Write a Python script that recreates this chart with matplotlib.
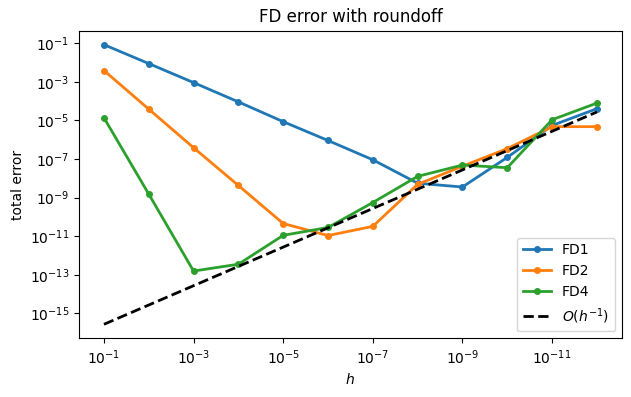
import matplotlib
matplotlib.use("Agg")
import matplotlib.pyplot as plt

h = [1e-1, 1e-2, 1e-3, 1e-4, 1e-5, 1e-6, 1e-7, 1e-8, 1e-9, 1e-10, 1e-11, 1e-12]

err_fd1 = [8.3e-2, 8.7e-3, 9.0e-4, 9.0e-5, 8.5e-6, 9.0e-7, 9.0e-8,
           5.5e-9, 3.5e-9, 1.2e-7, 5.4e-6, 4.0e-5]
err_fd2 = [3.8e-3, 3.8e-5, 3.8e-7, 4.2e-9, 4.5e-11, 1.07e-11, 3.2e-11,
           4.8e-9, 4.2e-8, 3.4e-7, 4.7e-6, 4.7e-6]
err_fd4 = [1.35e-5, 1.5e-9, 1.55e-13, 3.5e-13, 1.1e-11, 2.8e-11, 5.5e-10,
           1.25e-8, 4.8e-8, 3.5e-8, 1.07e-5, 7.8e-5]
ref = [2.7e-16, 2.7e-15, 2.7e-14, 2.7e-13, 2.7e-12, 2.7e-11, 2.7e-10,
       2.7e-9, 2.7e-8, 2.7e-7, 2.7e-6, 2.7e-5]

fig = plt.figure(figsize=(6.31, 3.97), dpi=100)
ax = fig.add_axes([0.1257, 0.1479, 0.8593, 0.7748])

ax.loglog(h, err_fd1, 'o-', lw=2, ms=4, label="FD1")
ax.loglog(h, err_fd2, 'o-', lw=2, ms=4, label="FD2")
ax.loglog(h, err_fd4, 'o-', lw=2, ms=4, label="FD4")
ax.loglog(h, ref, 'k--', lw=2, label="$O(h^{-1})$")

ax.invert_xaxis()
ax.set_title("FD error with roundoff")
ax.set_xlabel("$h$")
ax.set_ylabel("total error")
ax.legend(loc="lower right")

fig.savefig("out.png", dpi=100)
